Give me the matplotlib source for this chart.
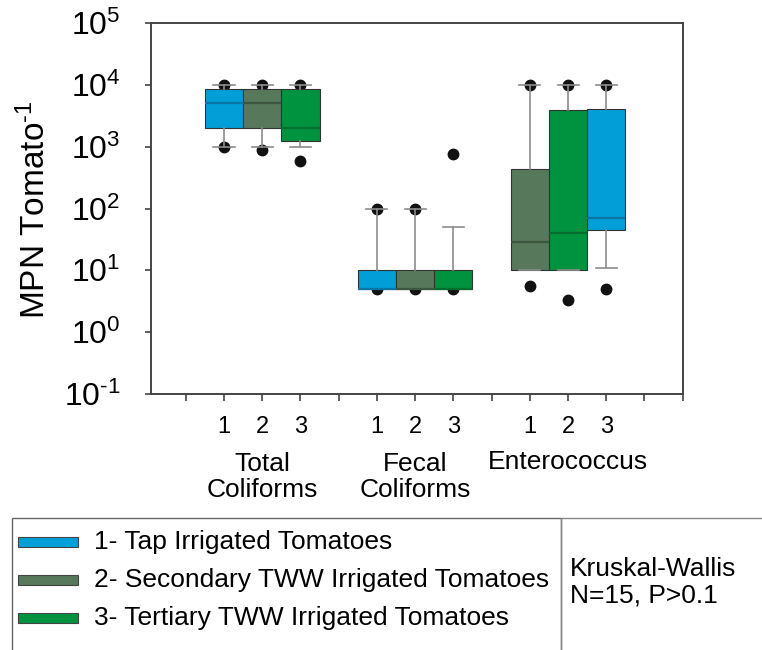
import matplotlib
matplotlib.use("Agg")
import matplotlib.pyplot as plt
from matplotlib.patches import Rectangle
from matplotlib.ticker import NullLocator, FixedLocator, FixedFormatter
from matplotlib.transforms import blended_transform_factory

plt.rcParams['font.family'] = ['Liberation Sans', 'DejaVu Sans']
plt.rcParams['mathtext.fontset'] = 'custom'
plt.rcParams['mathtext.rm'] = 'Liberation Sans'
plt.rcParams['mathtext.default'] = 'regular'

# groups and treatments
groups = ['Total\nColiforms', 'Fecal\nColiforms', 'Enterococcus']
treatments = ['1- Tap Irrigated Tomatoes',
              '2- Secondary TWW Irrigated Tomatoes',
              '3- Tertiary TWW Irrigated Tomatoes']
box_labels = ['1', '2', '3']

# box stats (MPN per tomato), 3 boxes per group
q1 = [2000, 2000, 1250, 5, 5, 5, 10, 10, 45]
med = [5000, 5000, 2000, 5, 5, 5, 29, 40, 70]
q3 = [8500, 8500, 8500, 10, 10, 10, 440, 3900, 4000]
whislo = [1000, 1000, 1000, 5, 5, 5, 10, 10, 11]
whishi = [10000, 10000, 10000, 100, 100, 50, 10000, 10000, 10000]
fliers = [[10000, 1000], [10000, 880], [10000, 590],
          [100, 5], [100, 5], [760, 5],
          [10000, 5.5], [10000, 3.3], [10000, 5.0]]
# which treatment colour each box carries (as drawn in the figure)
box_treat = [0, 1, 2, 0, 1, 2, 1, 2, 0]

colors = ['#019ed8', '#57785b', '#00933f']
med_colors = ['#0a76a6', '#3c5640', '#006e2c']

W, H = 762, 650
def fx(x):
    return x / W
def fy(y):
    return 1 - y / H

fig = plt.figure(figsize=(W / 100, H / 100), dpi=100)
ax = fig.add_axes([fx(151), fy(394), (682.7 - 151) / W, (394 - 23) / H])

stats = []
for i in range(len(q1)):
    stats.append(dict(med=med[i], q1=q1[i], q3=q3[i], whislo=whislo[i],
                      whishi=whishi[i], fliers=fliers[i]))
positions = [4 * (i // 3) + (i % 3) + 2 for i in range(len(q1))]

bp = ax.bxp(stats, positions=positions, widths=1.0, patch_artist=True,
            capwidths=0.55, showfliers=True,
            boxprops=dict(edgecolor='#333333', linewidth=0.8),
            whiskerprops=dict(color='#8c8c8c', linewidth=1.2),
            capprops=dict(color='#8c8c8c', linewidth=1.2),
            medianprops=dict(linewidth=1.6),
            flierprops=dict(marker='o', markerfacecolor='#111111',
                            markeredgecolor='#111111', markersize=7.5,
                            linestyle='none', zorder=1.5))
for i, box in enumerate(bp['boxes']):
    box.set_facecolor(colors[box_treat[i]])
    box.set_zorder(2)
for i, m in enumerate(bp['medians']):
    m.set_color(med_colors[box_treat[i]])
    m.set_zorder(2.5)

ax.set_yscale('log')
ax.set_ylim(0.1, 1e5)
ax.set_xlim(0.09, 14.0)
ax.yaxis.set_major_locator(FixedLocator([10.0 ** k for k in range(-1, 6)]))
ax.yaxis.set_major_formatter(FixedFormatter(['$10^{\\text{%d}}$' % k for k in range(-1, 6)]))
ax.yaxis.set_minor_locator(NullLocator())

xt = list(range(1, 15))
xl = [''] * len(xt)
for i, p in enumerate(positions):
    xl[p - 1] = box_labels[i % 3]
ax.set_xticks(xt)
ax.set_xticklabels(xl)

ax.tick_params(axis='y', labelsize=23, length=4, width=1.2, pad=18, color='#444444')
ax.tick_params(axis='x', labelsize=17, length=5, width=1.2, pad=11, color='#444444')
for s in ax.spines.values():
    s.set_color('#444444')
    s.set_linewidth(1.4)

fig.text(fx(35), fy(210), 'MPN Tomato$^{\\text{-1}}$', rotation=90, ha='center',
         va='center', fontsize=24)

tr = blended_transform_factory(ax.transData, fig.transFigure)
for g, name in enumerate(groups):
    xc = 4 * g + 3
    if '\n' in name:
        ax.text(xc, fy(477), name, transform=tr, ha='center', va='center',
                fontsize=19, linespacing=1.1, multialignment='center')
    else:
        ax.text(xc, fy(462), name, transform=tr, ha='center', va='center',
                fontsize=19)

# legend panel
fig.patches.append(Rectangle((fx(12), fy(670)), (561 - 12) / W, (670 - 518) / H,
                             transform=fig.transFigure, fill=False,
                             edgecolor='#666666', linewidth=1.0))
fig.patches.append(Rectangle((fx(561), fy(670)), (780 - 561) / W, (670 - 518) / H,
                             transform=fig.transFigure, fill=False,
                             edgecolor='#888888', linewidth=1.0))
rows = [541.7, 580, 618.3]
for k in range(3):
    fig.patches.append(Rectangle((fx(18), fy(rows[k] + 5)), 60 / W, 10 / H,
                                 transform=fig.transFigure, facecolor=colors[k],
                                 edgecolor='#444444', linewidth=0.8))
    fig.text(fx(94), fy(rows[k]), treatments[k], ha='left', va='center',
             fontsize=19)

fig.text(fx(570), fy(582), 'Kruskal-Wallis\nN=15, P>0.1', ha='left',
         va='center', fontsize=19, linespacing=1.15)

fig.savefig('out.png', dpi=100)
